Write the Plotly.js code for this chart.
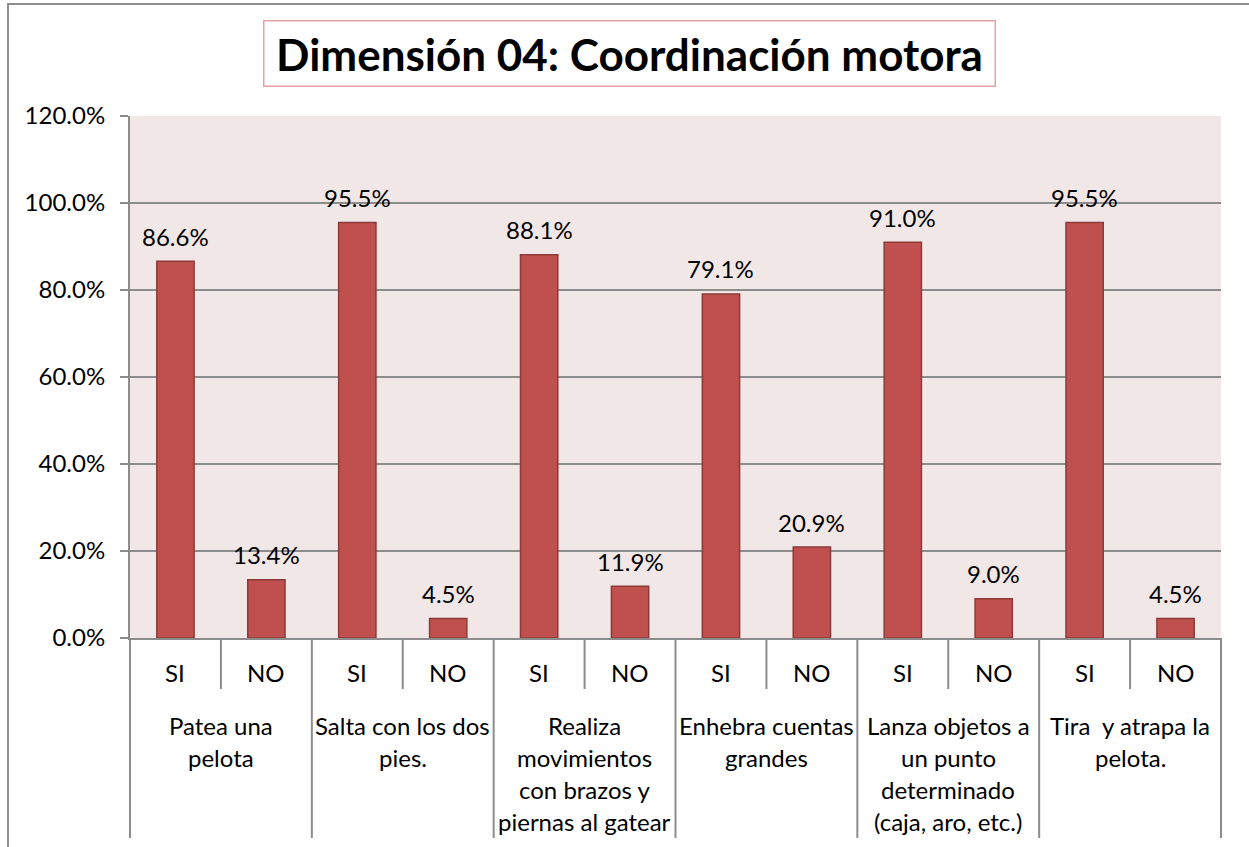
<!DOCTYPE html>
<html>
<head>
<meta charset="utf-8">
<script src="https://cdn.plot.ly/plotly-3.0.1.min.js"></script>
<style>
  html, body { margin: 0; padding: 0; background: #ffffff; }
  #wrap { position: relative; width: 1249px; height: 847px; overflow: hidden; }
  #chart { position: absolute; left: 0; top: 0; width: 1249px; height: 847px; }
  #frame { position: absolute; left: 7px; top: 3px; right: -10px; bottom: -10px;
           border-left: 2px solid #8e8e8e; border-top: 2px solid #8e8e8e; pointer-events: none; }
</style>
</head>
<body>
<div id="wrap">
  <div id="chart"></div>
  <div id="frame"></div>
</div>
<script>
// ---- data ----
var groups = [
  "Patea una<br>pelota",
  "Salta con los dos<br>pies.",
  "Realiza<br>movimientos<br>con brazos y<br>piernas al gatear",
  "Enhebra cuentas<br>grandes",
  "Lanza objetos a<br>un punto<br>determinado<br>(caja, aro, etc.)",
  "Tira  y atrapa la<br>pelota."
];
var answers = ["SI", "NO"];
var values = [0.866, 0.134, 0.955, 0.045, 0.881, 0.119, 0.791, 0.209, 0.910, 0.090, 0.955, 0.045];
var valueLabels = ["86.6%", "13.4%", "95.5%", "4.5%", "88.1%", "11.9%", "79.1%", "20.9%", "91.0%", "9.0%", "95.5%", "4.5%"];
var titleText = "Dimensión 04: Coordinación motora";

// ---- layout constants ----
var W = 1249, H = 847;
var M = {l: 130, r: 28, t: 116, b: 209};
var plotH = H - M.t - M.b;
var FONT = "Lato, 'Open Sans', sans-serif";
var FS = 24;
var gridCol = "#8c8c8c";

var xIdx = [], subLabels = [];
groups.forEach(function (g, gi) {
  answers.forEach(function (a, ai) {
    xIdx.push(gi * answers.length + ai);
    subLabels.push(a);
  });
});

var trace = {
  type: "bar",
  x: xIdx,
  y: values,
  marker: {color: "#C0504D", line: {color: "#8C3A38", width: 1.5}},
  hoverinfo: "none"
};

var annotations = [];
xIdx.forEach(function (x, i) {
  annotations.push({
    x: x, y: values[i], xref: "x", yref: "y",
    text: valueLabels[i], showarrow: false,
    xanchor: "center", yanchor: "middle", yshift: 25,
    font: {family: FONT, size: FS, color: "#000"}
  });
  annotations.push({
    x: x, y: 0, xref: "x", yref: "y",
    text: subLabels[i], showarrow: false,
    xanchor: "center", yanchor: "middle", yshift: -34,
    font: {family: FONT, size: FS, color: "#000"}
  });
});
groups.forEach(function (g, gi) {
  var center = gi * answers.length + (answers.length - 1) / 2;
  g.split("<br>").forEach(function (line, li) {
    annotations.push({
      x: center, y: 0, xref: "x", yref: "y",
      text: line, showarrow: false,
      xanchor: "center", yanchor: "middle", yshift: -(87 + li * 32),
      font: {family: FONT, size: FS, color: "#000"}
    });
  });
});
annotations.push({
  xref: "paper", yref: "paper",
  x: (629 - M.l) / (W - M.l - M.r), y: (H - M.b - 53.5) / plotH,
  xanchor: "center", yanchor: "middle",
  text: "<b>" + titleText + "</b>", showarrow: false,
  width: 728, height: 62, borderpad: 1,
  bordercolor: "#E3A3A3", borderwidth: 1.5, bgcolor: "#ffffff",
  font: {family: FONT, size: 44, color: "#000"}
});

var shapes = [];
var n = xIdx.length;
var yShort = -51 / plotH, yLong = -200 / plotH;
for (var b = 0; b <= n; b++) {
  var isGroup = (b % answers.length === 0);
  var s = {
    type: "line", layer: "above",
    yref: "paper", y0: 0, y1: isGroup ? yLong : yShort,
    line: {color: gridCol, width: 2}
  };
  if (b === 0 || b === n) {
    s.xref = "paper"; s.x0 = s.x1 = (b === 0 ? 0 : 1);
  } else {
    s.xref = "x"; s.x0 = s.x1 = b - 0.5;
  }
  shapes.push(s);
}

var layout = {
  width: W, height: H,
  margin: M,
  paper_bgcolor: "rgba(0,0,0,0)",
  plot_bgcolor: "#F2E7E7",
  showlegend: false,
  bargap: 0.59,
  font: {family: FONT, size: FS, color: "#000"},
  xaxis: {
    range: [-0.5, n - 0.5],
    showticklabels: false,
    showgrid: false, zeroline: false,
    showline: true, linecolor: gridCol, linewidth: 2,
    ticks: "", fixedrange: true
  },
  yaxis: {
    range: [0, 1.2],
    dtick: 0.2, tick0: 0,
    tickformat: ".1%",
    showgrid: true, gridcolor: gridCol, gridwidth: 1.5,
    zeroline: false,
    showline: true, linecolor: gridCol, linewidth: 2,
    ticks: "outside", ticklen: 8, tickcolor: gridCol, tickwidth: 2,
    ticklabelstandoff: 10,
    tickfont: {family: FONT, size: FS, color: "#000"},
    fixedrange: true
  },
  annotations: annotations,
  shapes: shapes
};

Plotly.newPlot("chart", [trace], layout, {displayModeBar: false, staticPlot: true});
</script>
</body>
</html>
